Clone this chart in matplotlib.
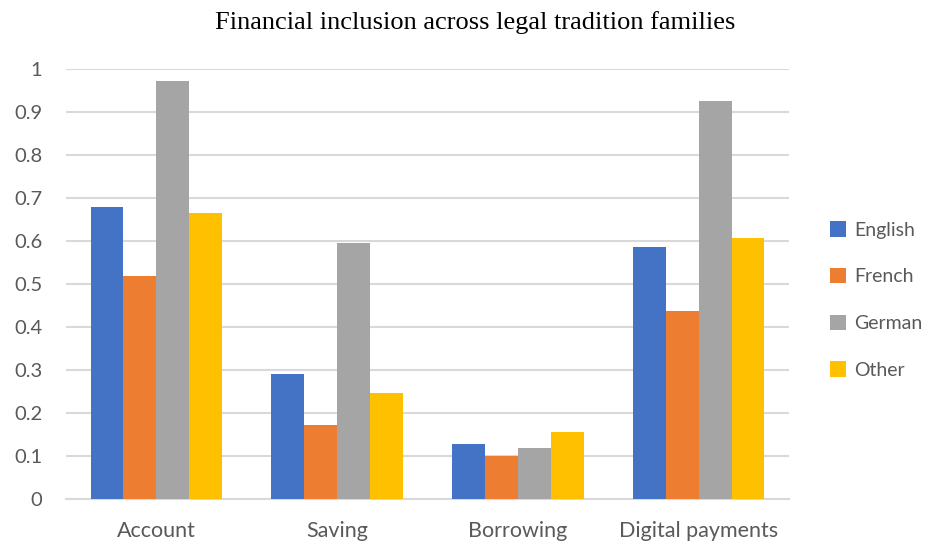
import matplotlib.pyplot as plt
import numpy as np

categories = ["Account", "Saving", "Borrowing", "Digital payments"]
series_names = ["English", "French", "German", "Other"]
english = [0.679, 0.291, 0.127, 0.587]
french = [0.519, 0.173, 0.100, 0.437]
german = [0.971, 0.595, 0.119, 0.925]
other = [0.664, 0.246, 0.156, 0.608]
yticks = [0, 0.1, 0.2, 0.3, 0.4, 0.5, 0.6, 0.7, 0.8, 0.9, 1]
ytick_labels = ["0", "0.1", "0.2", "0.3", "0.4", "0.5", "0.6", "0.7", "0.8", "0.9", "1"]

colors = ["#4472C4", "#ED7D31", "#A5A5A5", "#FFC000"]
text_grey = "#595959"

plt.rcParams['font.family'] = ['Lato', 'DejaVu Sans']

fig = plt.figure(figsize=(9.32, 5.49), dpi=100)
ax = fig.add_axes([66 / 932, 50 / 549, 723 / 932, 430 / 549])

x = np.arange(len(categories))
bar_w = 0.182
for i, (name, vals) in enumerate(zip(series_names, [english, french, german, other])):
    ax.bar(x + (i - 1.5) * bar_w, vals, width=bar_w, color=colors[i], label=name,
           zorder=3, linewidth=0)

ax.set_xlim(-0.5, 3.5)
ax.set_ylim(0, 1)
ax.set_yticks(yticks)
ax.set_yticklabels(ytick_labels)
ax.set_xticks(x)
ax.set_xticklabels(categories, fontsize=15.5)
ax.tick_params(axis='y', length=0, pad=17, labelsize=14.5, labelcolor=text_grey)
ax.tick_params(axis='x', length=0, pad=16, labelcolor=text_grey)
ax.grid(axis='y', color='#d9d9d9', linewidth=1.5, zorder=0)
for s in ['top', 'right', 'left']:
    ax.spines[s].set_visible(False)
ax.spines['bottom'].set_color('#d9d9d9')
ax.spines['bottom'].set_linewidth(1.5)

fig.text(475 / 932, 1 - 23 / 549, "Financial inclusion across legal tradition families",
         family='Liberation Serif', fontsize=19, ha='center', va='center', color='black')

fig.legend(loc='center left', bbox_to_anchor=(812 / 932, 1 - 300 / 549), frameon=False,
           fontsize=14, labelcolor=text_grey, handlelength=0.85, handleheight=0.85,
           handletextpad=0.4, labelspacing=1.5)

fig.savefig("out.png", dpi=100)
